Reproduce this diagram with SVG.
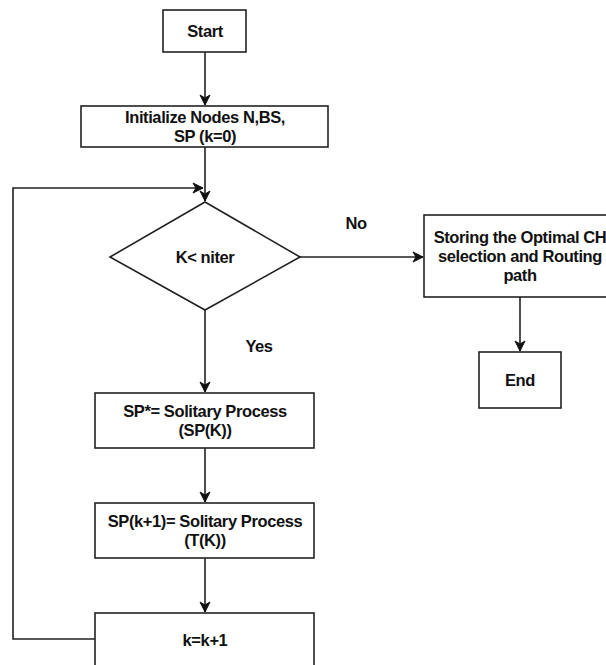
<svg xmlns="http://www.w3.org/2000/svg" width="606" height="665" viewBox="0 0 606 665">
<defs>
<marker id="arr" markerUnits="userSpaceOnUse" markerWidth="12" markerHeight="12" viewBox="0 0 12 12" refX="11" refY="6" orient="auto">
<path d="M1,1 L11,6 L1,11 L4,6 Z" fill="#111" stroke="#111" stroke-width="1"/>
</marker>
</defs>
<style>
.box{fill:#fff;stroke:#222;stroke-width:1.6}
.t{font-family:"Liberation Sans",Arial,sans-serif;font-weight:bold;font-size:16.5px;letter-spacing:-0.4px;fill:#111;text-anchor:middle}
.c{fill:none;stroke:#222;stroke-width:1.6}
</style>
<rect width="606" height="665" fill="#fff"/>
<g id="connectors">
<path class="c" d="M205,52 V105" marker-end="url(#arr)"/>
<path class="c" d="M205,147 V201" marker-end="url(#arr)"/>
<path class="c" d="M95,639 H13 V188 H203" stroke="#444" marker-end="url(#arr)"/>
<path class="c" d="M300,257 H423" marker-end="url(#arr)"/>
<path class="c" d="M520,297 V351" marker-end="url(#arr)"/>
<path class="c" d="M205,310 V392" marker-end="url(#arr)"/>
<path class="c" d="M205,448 V502" marker-end="url(#arr)"/>
<path class="c" d="M205,558 V612" marker-end="url(#arr)"/>
</g>
<g id="start">
<rect class="box" x="163" y="10" width="83" height="42"/>
<text class="t" x="205" y="37">Start</text>
</g>
<g id="init">
<rect class="box" x="81" y="106" width="247" height="41"/>
<text class="t" x="205" y="123">Initialize Nodes N,BS,</text>
<text class="t" x="205" y="142">SP (k=0)</text>
</g>
<g id="decision">
<polygon class="box" points="205,202 300,257 205,310 110,257"/>
<text class="t" x="205" y="263">K&lt; niter</text>
</g>
<g id="label-no"><text class="t" x="356" y="229">No</text></g>
<g id="label-yes"><text class="t" x="259" y="352">Yes</text></g>
<g id="store">
<rect class="box" x="424" y="215" width="192" height="82"/>
<text class="t" x="520" y="243">Storing the Optimal CH</text>
<text class="t" x="520" y="262">selection and Routing</text>
<text class="t" x="520" y="281">path</text>
</g>
<g id="end">
<rect class="box" x="479" y="352" width="82" height="56"/>
<text class="t" x="520" y="386">End</text>
</g>
<g id="sp-star">
<rect class="box" x="95" y="393" width="219" height="55"/>
<text class="t" x="205" y="417">SP*= Solitary Process</text>
<text class="t" x="205" y="436">(SP(K))</text>
</g>
<g id="sp-next">
<rect class="box" x="95" y="503" width="219" height="55"/>
<text class="t" x="205" y="527">SP(k+1)= Solitary Process</text>
<text class="t" x="205" y="546">(T(K))</text>
</g>
<g id="increment">
<rect class="box" x="95" y="613" width="219" height="70"/>
<text class="t" x="205" y="646">k=k+1</text>
</g>
</svg>
